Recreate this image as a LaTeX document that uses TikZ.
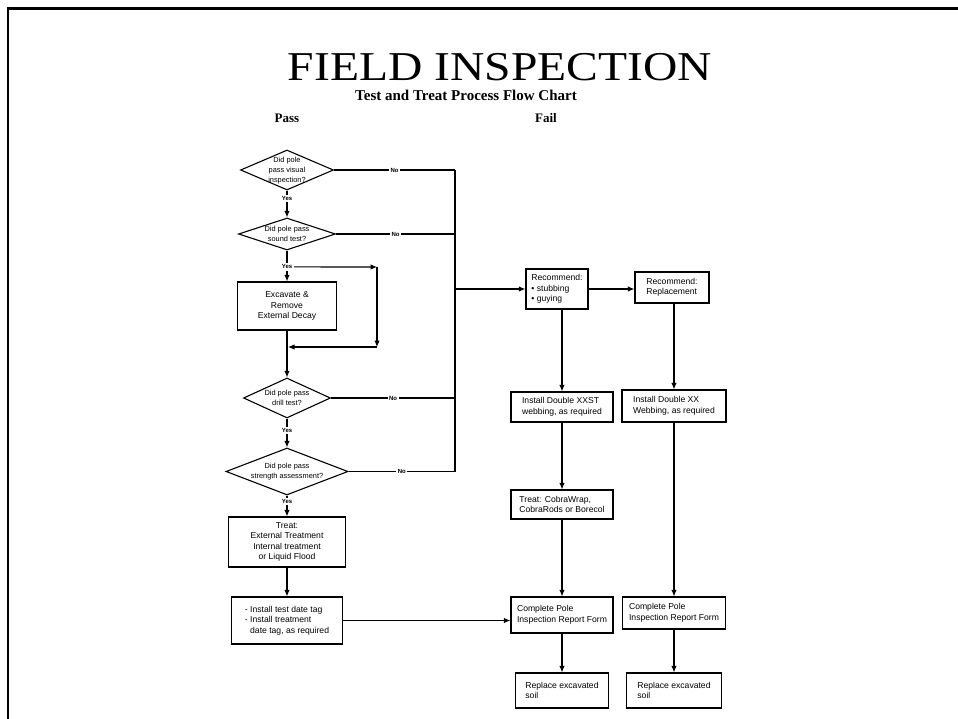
\documentclass[tikz,border=0pt]{standalone}
\usepackage{fontspec}
\setmainfont{Liberation Serif}
\setsansfont{Liberation Sans}
\usepackage{graphicx}
\usetikzlibrary{shapes.geometric,arrows.meta}
\newcommand\dtx[1]{\makebox[0pt]{\raisebox{-0.3em}[0pt][0pt]{\begin{tabular}{@{}c@{}}#1\end{tabular}}}}
\tikzset{
 ln/.style={line width=1.1pt},
 arr/.style={ln,-{Latex[length=6.5pt,width=5.5pt]}},
 box/.style={draw,ln,font=\sffamily\fontsize{8.6}{10.5}\selectfont,align=left,inner sep=1pt},
 cbox/.style={box,align=center},
 dia/.style={diamond,draw,ln,inner sep=0pt,font=\sffamily\fontsize{7.4}{10}\selectfont},
 lab/.style={fill=white,inner sep=1.5pt,font=\sffamily\bfseries\fontsize{6}{7}\selectfont},
}
\begin{document}
\begin{tikzpicture}[x=1pt,y=-1pt]
\useasboundingbox (0,0) rectangle (958,719);
\draw[line width=2.2pt] (8,719) -- (8,8.5) -- (958,8.5);

% titles
\node[anchor=base,inner sep=0] (title) at (500,81) {\fontsize{41}{41}\selectfont\scalebox{1.16}[1]{FIELD INSPECTION}};
\node[anchor=base,inner sep=0] (sub) at (466,101) {\fontsize{15}{16}\selectfont\bfseries Test and Treat Process Flow Chart};
\node[anchor=base,inner sep=0] (pass) at (287,123) {\fontsize{13}{14}\selectfont\bfseries Pass};
\node[anchor=base,inner sep=0] (fail) at (546,123) {\fontsize{13}{14}\selectfont\bfseries Fail};

% left column
\node[dia,minimum width=93pt,minimum height=40pt] (d1) at (287,170) {\dtx{Did pole\\pass visual\\inspection?}};
\node[dia,minimum width=97pt,minimum height=32pt] (d2) at (287,234) {\dtx{Did pole pass\\sound test?}};
\node[cbox,minimum width=99pt,minimum height=48pt] (exc) at (287,306) {Excavate \&\\Remove\\External Decay};
\node[dia,minimum width=87pt,minimum height=40pt] (d3) at (287,398) {\dtx{Did pole pass\\drill test?}};
\node[dia,minimum width=122pt,minimum height=47pt] (d4) at (287,471.5) {\dtx{Did pole pass\\strength assessment?}};
\node[cbox,minimum width=117pt,minimum height=50pt] (treat) at (287,542) {Treat:\\External Treatment\\Internal treatment\\or Liquid Flood};
\node[box,minimum width=111pt,minimum height=47pt] (inst) at (287,620.5) {- Install test date tag\\- Install treatment\\\hphantom{- }date tag, as required};

% right columns
\node[box,minimum width=62pt,minimum height=40pt] (rec1) at (557,289) {Recommend:\\• stubbing\\• guying};
\node[box,minimum width=74pt,minimum height=31pt] (rec2) at (672,287.5) {Recommend:\\Replacement};
\node[box,minimum width=102pt,minimum height=30pt] (xxst) at (562,407) {Install Double XXST\\webbing, as required};
\node[box,minimum width=104pt,minimum height=32pt] (xx) at (674,406) {Install Double XX\\Webbing, as required};
\node[box,minimum width=102pt,minimum height=29pt] (cobra) at (562,504.5) {Treat: CobraWrap,\\CobraRods or Borecol};
\node[box,minimum width=102pt,minimum height=36pt] (comp1) at (562,615) {Complete Pole\\Inspection Report Form};
\node[box,minimum width=103pt,minimum height=32pt] (comp2) at (674,613) {Complete Pole\\Inspection Report Form};
\node[box,minimum width=93pt,minimum height=35pt] (rep1) at (562,690.5) {Replace excavated\\soil};
\node[box,minimum width=95pt,minimum height=35pt] (rep2) at (674,690.5) {Replace excavated\\soil};

% bus
\coordinate (busx) at (455,0);
\draw[ln] (d1.east) -- node[lab]{No} (d1.east -| busx);
\draw[ln] (d2.east) -- node[lab]{No} (d2.east -| busx);
\draw[ln] (d3.east) -- node[lab]{No} (d3.east -| busx);
\draw[ln] (d4.east) -- node[lab]{No} (d4.east -| busx);
\draw[ln] (d1.east -| busx) -- (d4.east -| busx);
\draw[arr] (rec1.west -| busx) -- (rec1.west);

% left flow
\draw[arr] (d1.south) -- node[lab,pos=0.3]{Yes} (d2.north);
\draw[arr] (d2.south) -- node[lab,pos=0.53,name=yes2]{Yes} (exc.north);
\coordinate (c1) at (377,267);
\coordinate (c2) at (377,347);
\coordinate (c3) at (288,347);
\draw[arr] (yes2.east) -- (c1);
\draw[arr] (c1) -- (c2);
\draw[arr] (c2) -- (c3);
\draw[arr] (exc.south) -- (d3.north);
\draw[arr] (d3.south) -- node[lab,pos=0.4]{Yes} (d4.north);
\draw[arr] (d4.south) -- node[lab,pos=0.3]{Yes} (treat.north);
\draw[arr] (treat.south) -- (inst.north);
\draw[arr] (inst.east) -- (inst.east -| comp1.west);

% right flow
\draw[arr] (rec1.east) -- (rec1.east -| rec2.west);
\draw[arr] (xxst.north |- rec1.south) -- (xxst.north);
\draw[arr] (xx.north |- rec2.south) -- (xx.north);
\draw[arr] (xxst.south) -- (cobra.north);
\draw[arr] (cobra.south) -- (comp1.north);
\draw[arr] (xx.south) -- (comp2.north);
\draw[arr] (comp1.south) -- (rep1.north);
\draw[arr] (comp2.south) -- (rep2.north);
\end{tikzpicture}
\end{document}
